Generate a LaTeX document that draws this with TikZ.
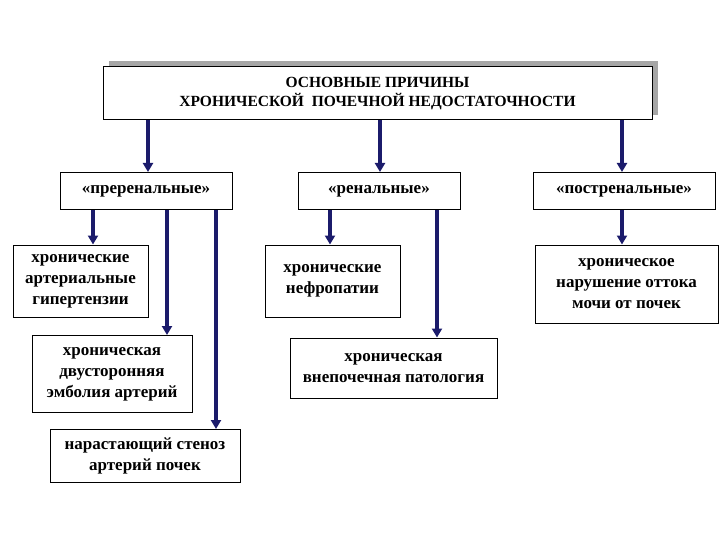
\documentclass[tikz,border=0pt]{standalone}
\usepackage{fontspec}
\setmainfont{Liberation Serif}
\usetikzlibrary{arrows.meta}
\definecolor{navy}{HTML}{1B1B6B}
\begin{document}
\begin{tikzpicture}[x=1pt,y=-1pt,
  bx/.style={draw=black,line width=1pt,fill=white,font=\bfseries\fontsize{17}{21}\selectfont,align=center,inner sep=0pt},
  arr/.style={draw=navy,line width=3.2pt,-{Triangle[length=9pt,width=10pt]}}]
\useasboundingbox (0,0) rectangle (720,540);
\fill[gray!70] (109,61) rectangle (658,115);
\node[bx,minimum width=549pt,minimum height=53pt,font=\bfseries\fontsize{15.5}{19}\selectfont] (t) at (377.5,93.5) {ОСНОВНЫЕ ПРИЧИНЫ\\ХРОНИЧЕСКОЙ\ \ ПОЧЕЧНОЙ НЕДОСТАТОЧНОСТИ};
\node[bx,minimum width=172pt,minimum height=37pt] (pre) at (146,191) {«преренальные»};
\node[bx,minimum width=162pt,minimum height=37pt] (ren) at (379,191) {«ренальные»};
\node[bx,minimum width=182pt,minimum height=37pt] (post) at (624,191) {«постренальные»};
\node[bx,minimum width=135pt,minimum height=72pt] (a1) at (80.5,281) {хронические\\артериальные\\гипертензии};
\node[bx,minimum width=160pt,minimum height=77pt] (a2) at (112,374) {хроническая\\двусторонняя\\эмболия артерий};
\node[bx,minimum width=190pt,minimum height=53pt] (a3) at (145,456) {нарастающий стеноз\\артерий почек};
\node[bx,minimum width=135pt,minimum height=72pt] (r1) at (332.5,281) {хронические\\нефропатии};
\node[bx,minimum width=207pt,minimum height=60pt] (r2) at (393.5,368) {хроническая\\внепочечная патология};
\node[bx,minimum width=183pt,minimum height=78pt] (p1) at (626.5,284) {хроническое\\нарушение оттока\\мочи от почек};
\draw[arr] (t.south -| 148,0) -- (pre.north -| 148,0);
\draw[arr] (t.south -| 380,0) -- (ren.north -| 380,0);
\draw[arr] (t.south -| 622,0) -- (post.north -| 622,0);
\draw[arr] (pre.south -| 93,0) -- (a1.north -| 93,0);
\draw[arr] (pre.south -| 167,0) -- (a2.north -| 167,0);
\draw[arr] (pre.south -| 216,0) -- (a3.north -| 216,0);
\draw[arr] (ren.south -| 330,0) -- (r1.north -| 330,0);
\draw[arr] (ren.south -| 437,0) -- (r2.north -| 437,0);
\draw[arr] (post.south -| 622,0) -- (p1.north -| 622,0);
\end{tikzpicture}
\end{document}
